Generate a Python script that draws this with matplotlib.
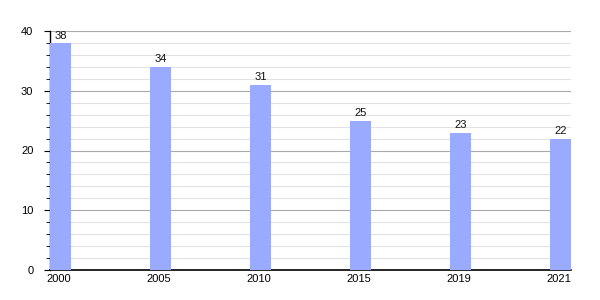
import numpy as np
import matplotlib
matplotlib.use('Agg')
import matplotlib.pyplot as plt
from matplotlib.ticker import MultipleLocator

plt.rcParams['font.family'] = ['Liberation Sans', 'DejaVu Sans']

years = ['2000', '2005', '2010', '2015', '2019', '2021']
values = [38, 34, 31, 25, 23, 22]

fig = plt.figure(figsize=(6, 3), dpi=100)
ax = fig.add_axes([50 / 600, 30 / 300, 521 / 600, 239 / 300])

x = np.arange(len(years))
width = 0.21
ax.bar(x, values, width=width, align='edge', color='#99aaff', zorder=3)
for xi, v in zip(x, values):
    ax.text(xi + width / 2, v + 0.4, str(v), ha='center', va='bottom', fontsize=8, color='#111111')

ax.set_xlim(0, len(years) - 1 + width)
ax.set_ylim(0, 40)
ax.set_xticks(x + width / 2 - 0.02)
ax.set_xticklabels(years, fontsize=8)
ax.tick_params(axis='x', length=0, pad=3)
ax.yaxis.set_major_locator(MultipleLocator(10))
ax.yaxis.set_minor_locator(MultipleLocator(2))
ax.tick_params(axis='y', which='major', length=4, labelsize=8, pad=8)
ax.tick_params(axis='y', which='minor', length=3)
ax.grid(axis='y', which='major', color='#a8a8a8', linewidth=0.8, zorder=1)
ax.grid(axis='y', which='minor', color='#e2e2e2', linewidth=0.8, zorder=1)
for s in ['top', 'right']:
    ax.spines[s].set_visible(False)
ax.spines['left'].set_linewidth(1)
ax.spines['bottom'].set_linewidth(1.2)

fig.savefig('out.png', dpi=100)
